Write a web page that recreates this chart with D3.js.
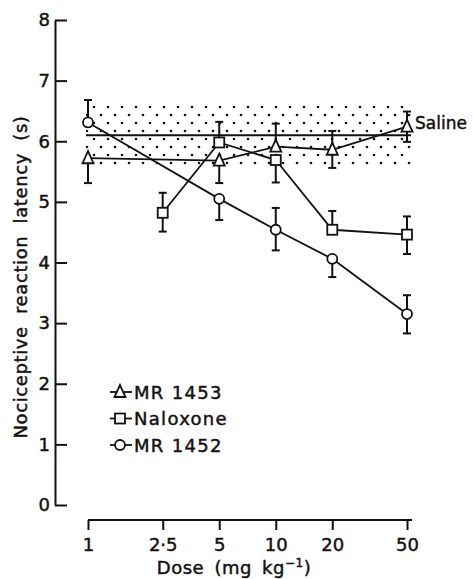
<!DOCTYPE html>
<html>
<head>
<meta charset="utf-8">
<script src="https://cdn.jsdelivr.net/npm/d3@7"></script>
<style>
  body { margin: 0; background: #fff; }
  svg text { font-family: "DejaVu Sans", sans-serif; fill: #111; stroke: #111; stroke-width: 0.45; }
  .axis path, .axis line { stroke: #111; stroke-width: 2; }
</style>
</head>
<body>
<svg id="chart" width="474" height="579"></svg>
<script>
// doses (mg/kg) and tick labels
var doseTicks = [1, 2.5, 5, 10, 20, 50];
var doseLabels = ["1", "2·5", "5", "10", "20", "50"];
var latencyTicks = [0, 1, 2, 3, 4, 5, 6, 7, 8];

// MR 1453 (triangles)
var mr1453Dose = [1, 5, 10, 20, 50];
var mr1453Mean = [5.72, 5.68, 5.91, 5.86, 6.24];
var mr1453ErrUp = [0, 0, 0.38, 0.31, 0.25];
var mr1453ErrDown = [0.41, 0.37, 0, 0.30, 0.25];

// Naloxone (squares)
var naloxDose = [2.5, 5, 10, 20, 50];
var naloxMean = [4.82, 5.98, 5.69, 4.54, 4.46];
var naloxErrUp = [0.33, 0.34, 0, 0.31, 0.30];
var naloxErrDown = [0.31, 0, 0.37, 0, 0.32];

// MR 1452 (circles)
var mr1452Dose = [1, 5, 10, 20, 50];
var mr1452Mean = [6.31, 5.05, 4.54, 4.06, 3.15];
var mr1452ErrUp = [0.37, 0, 0.36, 0, 0.31];
var mr1452ErrDown = [0, 0.35, 0.34, 0.30, 0.32];

// saline mean and range (shaded)
var salineMean = 6.1;
var salineLow = 5.57;
var salineHigh = 6.6;

var svg = d3.select("#chart");

var x = d3.scaleLog()
  .domain([1, 50])
  .range([88, 407]);

var y = d3.scaleLinear()
  .domain([0, 8])
  .range([505, 20]);

function build(doses, means, up, down) {
  return doses.map(function(d, i) {
    return {dose: d, mean: means[i], up: up[i], down: down[i]};
  });
}

var series = [
  {name: "MR 1453", shape: "tri", data: build(mr1453Dose, mr1453Mean, mr1453ErrUp, mr1453ErrDown)},
  {name: "Naloxone", shape: "sq", data: build(naloxDose, naloxMean, naloxErrUp, naloxErrDown)},
  {name: "MR 1452", shape: "circ", data: build(mr1452Dose, mr1452Mean, mr1452ErrUp, mr1452ErrDown)}
];

// stipple pattern for saline band
var defs = svg.append("defs");
var pat = defs.append("pattern")
  .attr("id", "dots")
  .attr("patternUnits", "userSpaceOnUse")
  .attr("width", 14)
  .attr("height", 16);
pat.append("circle").attr("cx", 3).attr("cy", 3).attr("r", 1.3).attr("fill", "#111");
pat.append("circle").attr("cx", 10).attr("cy", 11).attr("r", 1.3).attr("fill", "#111");

svg.append("rect")
  .attr("x", x(1) - 2)
  .attr("y", y(salineHigh))
  .attr("width", x(50) - x(1) + 6)
  .attr("height", y(salineLow) - y(salineHigh))
  .attr("fill", "url(#dots)");

svg.append("line")
  .attr("x1", x(1) - 2)
  .attr("x2", x(50) + 4)
  .attr("y1", y(salineMean))
  .attr("y2", y(salineMean))
  .attr("stroke", "#111")
  .attr("stroke-width", 2);

svg.append("text")
  .attr("x", x(50) + 8)
  .attr("y", y(salineMean) - 6)
  .attr("font-size", 17)
  .text("Saline");

// axes
var yAxis = d3.axisLeft(y)
  .tickValues(latencyTicks)
  .tickSizeInner(-12)
  .tickSizeOuter(0)
  .tickPadding(5)
  .tickFormat(d3.format("d"));

svg.append("g")
  .attr("class", "axis")
  .attr("transform", "translate(55,0)")
  .call(yAxis)
  .selectAll("text")
  .attr("font-size", 18);

var xAxis = d3.axisBottom(x)
  .tickValues(doseTicks)
  .tickSizeInner(10)
  .tickSizeOuter(0)
  .tickPadding(8)
  .tickFormat(function(d, i) { return doseLabels[i]; });

var xg = svg.append("g")
  .attr("class", "axis")
  .attr("transform", "translate(0,520)")
  .call(xAxis);
xg.selectAll("text").attr("font-size", 18);
xg.select(".domain").attr("d", "M" + (x(1)) + ",0H" + (x(50) + 5));

svg.append("text")
  .attr("transform", "translate(27,277) rotate(-90)")
  .attr("text-anchor", "middle")
  .attr("font-size", 18)
  .attr("letter-spacing", 0.6)
  .attr("word-spacing", 6)
  .text("Nociceptive reaction latency (s)");

var xt = svg.append("text")
  .attr("x", 234)
  .attr("y", 574)
  .attr("text-anchor", "middle")
  .attr("font-size", 18)
  .attr("letter-spacing", 0.5)
  .attr("word-spacing", 4);
xt.append("tspan").text("Dose (mg kg");
xt.append("tspan").attr("dy", -7).attr("font-size", 12).text("−1");
xt.append("tspan").attr("dy", 7).text(")");

// markers
function drawMarker(g, shape, cx, cy) {
  if (shape == "tri") {
    g.append("path")
      .attr("d", "M" + cx + "," + (cy - 7) + "L" + (cx + 5.5) + "," + (cy + 5) + "L" + (cx - 5.5) + "," + (cy + 5) + "Z")
      .attr("fill", "#fff").attr("stroke", "#111").attr("stroke-width", 1.8);
  } else if (shape == "sq") {
    g.append("rect")
      .attr("x", cx - 5).attr("y", cy - 5).attr("width", 10).attr("height", 10)
      .attr("fill", "#fff").attr("stroke", "#111").attr("stroke-width", 1.8);
  } else {
    g.append("circle")
      .attr("cx", cx).attr("cy", cy).attr("r", 5)
      .attr("fill", "#fff").attr("stroke", "#111").attr("stroke-width", 1.8);
  }
}

var line = d3.line()
  .x(function(d) { return x(d.dose); })
  .y(function(d) { return y(d.mean); });

var plot = svg.append("g");

series.forEach(function(s) {
  plot.append("path")
    .datum(s.data)
    .attr("d", line)
    .attr("fill", "none")
    .attr("stroke", "#111")
    .attr("stroke-width", 1.8);
});

series.forEach(function(s) {
  var g = plot.append("g");
  s.data.forEach(function(d) {
    var cx = x(d.dose);
    var top = y(d.mean + d.up);
    var bot = y(d.mean - d.down);
    g.append("line")
      .attr("x1", cx).attr("x2", cx)
      .attr("y1", top).attr("y2", bot)
      .attr("stroke", "#111").attr("stroke-width", 2);
    if (d.up > 0) {
      g.append("line")
        .attr("x1", cx - 4).attr("x2", cx + 4)
        .attr("y1", top).attr("y2", top)
        .attr("stroke", "#111").attr("stroke-width", 2);
    }
    if (d.down > 0) {
      g.append("line")
        .attr("x1", cx - 4).attr("x2", cx + 4)
        .attr("y1", bot).attr("y2", bot)
        .attr("stroke", "#111").attr("stroke-width", 2);
    }
    drawMarker(g, s.shape, cx, y(d.mean));
  });
});

// legend
var legend = svg.append("g");
series.forEach(function(s, i) {
  var ly = 392 + i * 26.5;
  legend.append("line")
    .attr("x1", 110).attr("x2", 132)
    .attr("y1", ly).attr("y2", ly)
    .attr("stroke", "#111").attr("stroke-width", 1.8);
  drawMarker(legend, s.shape, 120, ly);
  legend.append("text")
    .attr("x", 134)
    .attr("y", ly + 6.5)
    .attr("font-size", 18)
    .attr("letter-spacing", 1.3)
    .text(s.name);
});
</script>
</body>
</html>
